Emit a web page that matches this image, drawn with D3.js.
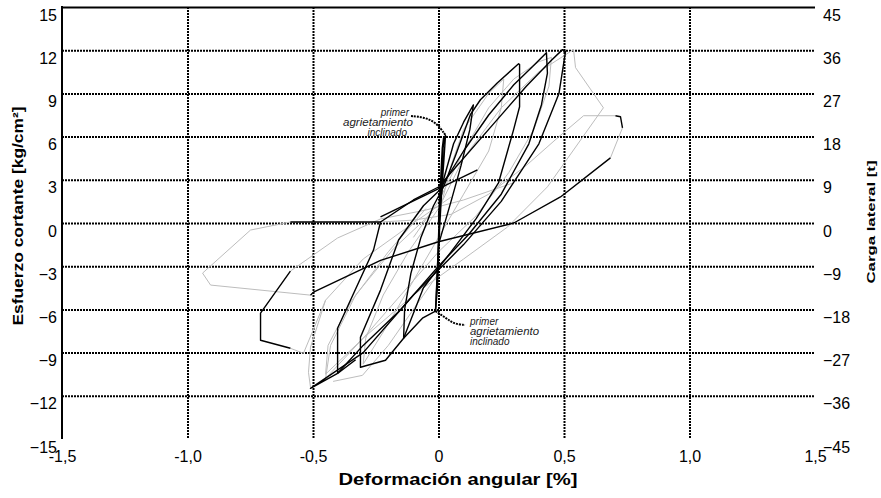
<!DOCTYPE html>
<html><head><meta charset="utf-8">
<script src="https://cdn.jsdelivr.net/npm/d3@7"></script>
<style>body{margin:0;background:#fff}svg{display:block}</style>
</head><body><svg id="c" width="881" height="498"></svg>
<script>
// ---------- data ----------
const xTicks = [-1.5, -1.0, -0.5, 0, 0.5, 1.0, 1.5];
const xTickLabels = ["-1,5", "-1,0", "-0,5", "0", "0,5", "1,0", "1,5"];
const yTicks = [15, 12, 9, 6, 3, 0, -3, -6, -9, -12, -15];
const yRightTicks = [45, 36, 27, 18, 9, 0, -9, -18, -27, -36, -45];
const xTitle = "Deformación angular [%]";
const yTitle = "Esfuerzo cortante [kg/cm²]";
const yRightTitle = "Carga lateral [t]";
const annotation = ["primer", "agrietamiento", "inclinado"];
const crackPos = [0.028, 6.1];
const crackNeg = [-0.012, -6.12];

// gray cycles  [deformación %, esfuerzo kg/cm²]
const gris1 = [[0.705,7.45],[0.578,7.45],[0.48,6.0],[0.35,4.0],[0.2,2.0],[0.05,0.6],[-0.1,0.2],[-0.231,0.07]];
const gris2 = [[-0.59,0.07],[-0.749,-0.49],[-0.94,-3.48],[-0.908,-4.31],[-0.51,-5.01]];
const gris3 = [[0.685,4.52],[0.733,6.61]];
const gris4 = [[0.0,1.0],[0.1,4.5],[0.25,8.0],[0.4,10.5],[0.538,12.04],[0.546,10.79],[0.657,8.0],[0.434,2.51],[0.275,-0.28],[0.1,-2.5],[-0.1,-5.0],[-0.3,-8.0],[-0.45,-10.8],[-0.43,-8.5],[-0.33,-5.0],[-0.18,-1.8],[-0.02,0.8]];
const gris5 = [[0.3,2.8],[0.1,1.6],[-0.05,0.9],[-0.231,0.28],[-0.402,-1.04],[-0.59,-3.34]];
const gris6 = [[-0.59,-8.70],[-0.538,-9.05],[-0.45,-5.36],[-0.3,-2.5],[-0.1,0.0],[0.05,1.8]];
const gris7 = [[-0.1,-1.0],[0.0,1.5],[0.1,5.0],[0.2,8.0],[0.3,10.0],[0.4,11.2],[0.45,11.5],[0.44,9.5],[0.38,6.5],[0.28,3.5],[0.15,0.5],[0.0,-2.0],[-0.15,-5.0],[-0.3,-8.0],[-0.45,-10.5],[-0.44,-8.5],[-0.35,-5.5],[-0.2,-2.0],[-0.05,1.0]];
const gris8 = [[0.0,0.5],[0.05,4.0],[0.1,6.5],[0.2,9.0],[0.26,10.0],[0.25,8.0],[0.2,5.0],[0.1,2.0],[0.0,-1.0],[-0.1,-4.0],[-0.2,-7.0],[-0.3,-9.8],[-0.29,-8.0],[-0.22,-5.0],[-0.12,-2.0],[0.0,1.0]];
const gris9 = [[-0.45,-5.36],[-0.51,-8.63],[-0.518,-10.37],[-0.51,-11.41]];
const gris10 = [[-0.42,-11.0],[-0.303,-10.58],[-0.2,-8.5],[-0.1,-6.0],[0.0,-3.5]];

// black cycles
const negro1 = [[0,0],[0.005,2],[0.012,4],[0.02,5.5],[0.028,6.1],[0.022,4.5],[0.012,2.0],[0.004,-0.5],[0.0,-2.5],[-0.004,-4.5],[-0.012,-6.1],[-0.006,-4.5],[0.0,-2.0],[0.004,0.5],[0.01,3.5],[0.015,5.2],[0.02,5.9],[0.014,3.5],[0.006,0.8],[0.0,-1.8],[-0.005,-4.0],[-0.01,-5.8],[-0.004,-3.0],[0.003,0.5],[0.008,2.5]];
const negro2 = [[0.0,0.5],[0.02,3.0],[0.06,5.5],[0.10,7.0],[0.139,8.2],[0.125,6.5],[0.09,4.0],[0.05,1.5],[0.0,-1.5],[-0.012,-6.12],[-0.064,-6.61],[-0.139,-8.0],[-0.135,-6.0],[-0.11,-3.5],[-0.07,-1.0],[-0.02,1.2],[0.02,2.5]];
const negro3 = [[0.02,2.5],[0.07,4.8],[0.127,7.52],[0.167,8.56],[0.235,9.74],[0.319,11.06],[0.323,11.0],[0.323,8.07],[0.299,6.47],[0.239,2.78],[0.15,0.3],[0.05,-2.0],[-0.06,-4.5],[-0.139,-8.0],[-0.211,-9.53],[-0.311,-10.02],[-0.311,-7.93],[-0.231,-4.66],[-0.159,-1.18],[-0.06,1.2],[0.0,2.2]];
const negro4 = [[0.0,2.2],[0.1,5.0],[0.2,7.5],[0.3,9.6],[0.375,10.86],[0.43,11.83],[0.434,10.4],[0.41,8.2],[0.36,5.5],[0.25,2.0],[0.12,-0.8],[0.0,-3.0],[-0.15,-6.0],[-0.3,-8.5],[-0.402,-10.44],[-0.402,-7.31],[-0.259,-1.88],[-0.231,0.07],[-0.1,1.6],[0.0,2.5]];
const negro5 = [[0.0,2.5],[0.2,6.5],[0.35,9.5],[0.45,11.3],[0.494,12.04],[0.506,11.9],[0.48,9.0],[0.4,5.5],[0.25,1.5],[0.1,-1.5],[-0.1,-5.0],[-0.3,-9.0],[-0.51,-11.48],[-0.402,-10.44],[-0.33,-9.5]];
const negro6 = [[-0.231,0.07],[-0.59,0.07]];
const negro7 = [[-0.51,-5.01],[-0.498,-4.8],[-0.231,-2.6],[0.0,-1.3],[0.3,0.0],[0.486,1.81],[0.685,4.52]];
const negro8 = [[0.733,6.61],[0.725,7.38],[0.705,7.45]];
const negro9 = [[-0.59,-3.34],[-0.709,-6.26],[-0.709,-8.14],[-0.59,-8.70]];
const negro10 = [[-0.231,0.42],[0.155,3.69]];

const graySeries = [gris1, gris2, gris3, gris4, gris5, gris6, gris7, gris8, gris9, gris10];
const blackSeries = [negro1, negro2, negro3, negro4, negro5, negro6, negro7, negro8, negro9, negro10];

// ---------- chart ----------
const svg = d3.select("#c");
const L = 62, R = 815, T = 7, B = 439;
const x = d3.scaleLinear().domain([-1.5, 1.5]).range([L, R]);
const y = d3.scaleLinear().domain([-15, 15]).range([B, T]);
const yR = d3.scaleLinear().domain([-45, 45]).range([B, T]);

// horizontal gridlines
const gy = svg.append("g").attr("transform", `translate(${L},0)`)
  .call(d3.axisLeft(y).tickValues(yTicks.filter(v => v > -15)).tickSize(-(R - L)).tickFormat(""));
gy.select(".domain").remove();
gy.selectAll(".tick line")
  .attr("stroke", "#000").attr("stroke-width", 2)
  .attr("stroke-dasharray", d => d === 15 ? null : "2,1");

// vertical gridlines
const gx = svg.append("g").attr("transform", `translate(0,${T})`)
  .call(d3.axisBottom(x).tickValues(xTicks.filter(v => v > -1.5 && v < 1.5)).tickSize(B - T).tickFormat(""));
gx.select(".domain").remove();
gx.selectAll(".tick line").attr("stroke", "#000").attr("stroke-width", 2).attr("stroke-dasharray", "2,1");

// left axis line
svg.append("line").attr("x1", x(-1.5)).attr("x2", x(-1.5)).attr("y1", y(15) - 1).attr("y2", y(-15))
  .attr("stroke", "#000").attr("stroke-width", 2);

// tick labels left
const al = svg.append("g").attr("transform", `translate(${L},0)`)
  .call(d3.axisLeft(y).tickValues(yTicks).tickSize(0).tickPadding(5));
al.select(".domain").remove();
al.selectAll("text").attr("font-family", "Liberation Sans, Arial, sans-serif").attr("font-size", 16)
  .attr("fill", "#000").attr("dy", 13);

// tick labels right
const ar = svg.append("g").attr("transform", `translate(${R},0)`)
  .call(d3.axisRight(yR).tickValues(yRightTicks).tickSize(0).tickPadding(8));
ar.select(".domain").remove();
ar.selectAll("text").attr("font-family", "Liberation Sans, Arial, sans-serif").attr("font-size", 16)
  .attr("fill", "#000").attr("dy", 13);

// tick labels bottom
const ab = svg.append("g").attr("transform", `translate(0,${B})`)
  .call(d3.axisBottom(x).tickValues(xTicks).tickSize(0).tickPadding(12).tickFormat((d, i) => xTickLabels[i]));
ab.select(".domain").remove();
ab.selectAll("text").attr("font-family", "Liberation Sans Narrow, Arial Narrow, Liberation Sans, sans-serif")
  .attr("font-size", 16).attr("fill", "#000");

// curves
const line = d3.line().x(d => x(d[0])).y(d => y(d[1]));
svg.append("g").selectAll("path").data(graySeries).join("path")
  .attr("d", line).attr("fill", "none").attr("stroke", "#bdbdbd").attr("stroke-width", 1)
  .attr("stroke-linejoin", "round");
svg.append("g").selectAll("path").data(blackSeries).join("path")
  .attr("d", line).attr("fill", "none").attr("stroke", "#000").attr("stroke-width", 1.4)
  .attr("stroke-linejoin", "round");

// annotations
const af = "Liberation Sans, Arial, sans-serif";
const up = svg.append("g").attr("font-family", af).attr("font-style", "italic").attr("font-size", 10).attr("fill", "#222");
up.append("text").attr("x", 409).attr("y", 116).attr("text-anchor", "end").text(annotation[0]);
up.append("text").attr("x", 413).attr("y", 126).attr("text-anchor", "end").attr("textLength", 70).attr("lengthAdjust", "spacingAndGlyphs").text(annotation[1]);
up.append("text").attr("x", 407).attr("y", 136).attr("text-anchor", "end").text(annotation[2]);
up.append("text").attr("x", 470).attr("y", 325).text(annotation[0]);
up.append("text").attr("x", 470).attr("y", 335).attr("textLength", 69).attr("lengthAdjust", "spacingAndGlyphs").text(annotation[1]);
up.append("text").attr("x", 470).attr("y", 345).text(annotation[2]);
const lead = d3.line().curve(d3.curveBasis);
const [cpx, cpy] = [x(crackPos[0]), y(crackPos[1])];
svg.append("path").attr("d", lead([[411, 116], [423, 117], [436, 122], [cpx, cpy]]))
  .attr("fill", "none").attr("stroke", "#000").attr("stroke-width", 2).attr("stroke-dasharray", "2,1");
const [cnx, cny] = [x(crackNeg[0]), y(crackNeg[1])];
svg.append("path").attr("d", lead([[cnx, cny], [446, 318], [454, 324], [465, 325]]))
  .attr("fill", "none").attr("stroke", "#000").attr("stroke-width", 2).attr("stroke-dasharray", "2,1");

// titles
svg.append("text").attr("x", 458).attr("y", 485).attr("text-anchor", "middle")
  .attr("font-family", "Liberation Sans Narrow, Arial Narrow, Liberation Sans, sans-serif")
  .attr("font-weight", "bold").attr("font-size", 16).attr("textLength", 239).attr("lengthAdjust", "spacingAndGlyphs")
  .text(xTitle);
svg.append("text").attr("transform", "translate(23,216) rotate(-90)").attr("text-anchor", "middle")
  .attr("font-family", af).attr("font-weight", "bold").attr("font-size", 15)
  .attr("textLength", 219).attr("lengthAdjust", "spacingAndGlyphs").text(yTitle);
svg.append("text").attr("transform", "translate(875,222) rotate(-90)").attr("text-anchor", "middle")
  .attr("font-family", af).attr("font-weight", "bold").attr("font-size", 10)
  .attr("textLength", 123).attr("lengthAdjust", "spacingAndGlyphs").text(yRightTitle);
</script></body></html>
